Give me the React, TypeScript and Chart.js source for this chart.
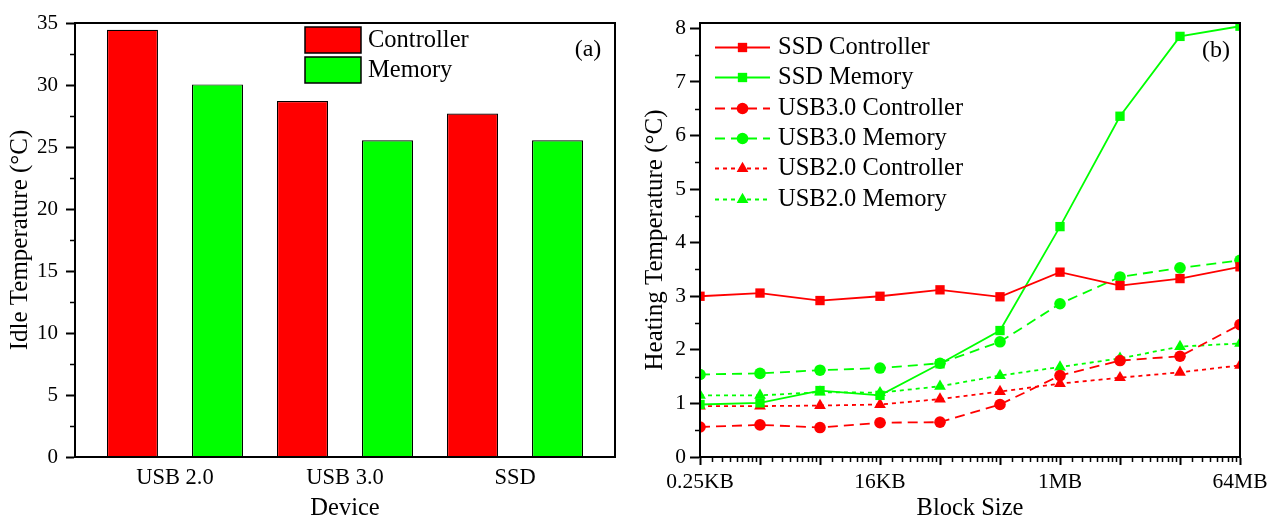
import React, { useEffect, useRef } from "react";
import { Chart, registerables } from "chart.js";

Chart.register(...registerables);

const FONT = "'Liberation Serif', 'Times New Roman', Times, serif";
const RED = "#ff0000";
const GREEN = "#00ff00";

// ---------- Panel (a): idle temperature ----------
const devices = ["USB 2.0", "USB 3.0", "SSD"];
const idleController = [34.45, 28.7, 27.7];
const idleMemory = [30.05, 25.55, 25.55];
const idleTicks = [0, 5, 10, 15, 20, 25, 30, 35];
const idleMinorTicks = [2.5, 7.5, 12.5, 17.5, 22.5, 27.5, 32.5];

// ---------- Panel (b): heating temperature vs block size ----------
const blockSizesKB = [0.25, 1, 4, 16, 64, 256, 1024, 4096, 16384, 65536];
const blockTickLabels = ["0.25KB", "", "", "16KB", "", "", "1MB", "", "", "64MB"];
const heatTicks = [0, 1, 2, 3, 4, 5, 6, 7, 8];
const heatMinorTicks = [0.5, 1.5, 2.5, 3.5, 4.5, 5.5, 6.5, 7.5];

const ssdController = [3.0, 3.06, 2.92, 3.0, 3.12, 2.99, 3.45, 3.2, 3.33, 3.55];
const ssdMemory = [0.98, 1.01, 1.24, 1.15, 1.74, 2.36, 4.3, 6.36, 7.85, 8.04];
const usb3Controller = [0.56, 0.6, 0.55, 0.64, 0.65, 0.98, 1.52, 1.8, 1.88, 2.47];
const usb3Memory = [1.54, 1.56, 1.62, 1.66, 1.75, 2.15, 2.86, 3.36, 3.53, 3.67];
const usb2Controller = [0.95, 0.95, 0.96, 0.98, 1.08, 1.22, 1.37, 1.48, 1.58, 1.71];
const usb2Memory = [1.15, 1.15, 1.21, 1.2, 1.32, 1.52, 1.68, 1.84, 2.06, 2.12];

// minor tick positions on the log axis (between each 4x step)
const blockMinorTicks: number[] = [];
for (let i = 0; i < blockSizesKB.length - 1; i++) {
  for (let k = 1; k <= 8; k++) blockMinorTicks.push(blockSizesKB[i] * (1 + k / 3));
}

// ---------- plugins ----------
const framePlugin = {
  id: "frame",
  afterDraw(chart: any) {
    const { ctx, chartArea } = chart;
    ctx.save();
    ctx.strokeStyle = "#000";
    ctx.lineWidth = 2;
    ctx.strokeRect(chartArea.left, chartArea.top, chartArea.right - chartArea.left, chartArea.bottom - chartArea.top);
    ctx.restore();
  },
};

function minorTicksPlugin(xVals: number[], yVals: number[], len: number) {
  return {
    id: "minorTicks",
    afterDraw(chart: any) {
      const { ctx, chartArea, scales } = chart;
      ctx.save();
      ctx.strokeStyle = "#000";
      ctx.lineWidth = 1.5;
      ctx.beginPath();
      xVals.forEach((v) => {
        const px = Math.round(scales.x.getPixelForValue(v)) + 0.5;
        ctx.moveTo(px, chartArea.bottom);
        ctx.lineTo(px, chartArea.bottom + len);
      });
      yVals.forEach((v) => {
        const py = Math.round(scales.y.getPixelForValue(v)) + 0.5;
        ctx.moveTo(chartArea.left - len, py);
        ctx.lineTo(chartArea.left, py);
      });
      ctx.stroke();
      ctx.restore();
    },
  };
}

function panelLabelPlugin(text: string, dxFromRight: number, dyFromTop: number) {
  return {
    id: "panelLabel",
    afterDraw(chart: any) {
      const { ctx, chartArea } = chart;
      ctx.save();
      ctx.fillStyle = "#000";
      ctx.font = `24px ${FONT}`;
      ctx.textAlign = "center";
      ctx.textBaseline = "middle";
      ctx.fillText(text, chartArea.right - dxFromRight, chartArea.top + dyFromTop);
      ctx.restore();
    },
  };
}

const legendBarsPlugin = {
  id: "legendBars",
  afterDraw(chart: any) {
    const { ctx, chartArea } = chart;
    const x0 = chartArea.left + 230;
    const y0 = chartArea.top + 4;
    ctx.save();
    chart.data.datasets.forEach((ds: any, i: number) => {
      const y = y0 + i * 30;
      ctx.fillStyle = ds.backgroundColor;
      ctx.fillRect(x0, y, 56, 26);
      ctx.strokeStyle = "#000";
      ctx.lineWidth = 1.5;
      ctx.strokeRect(x0, y, 56, 26);
      ctx.fillStyle = "#000";
      ctx.font = `24.5px ${FONT}`;
      ctx.textAlign = "left";
      ctx.textBaseline = "middle";
      ctx.fillText(ds.label, x0 + 63, y + 14);
    });
    ctx.restore();
  },
};

function drawMarker(ctx: CanvasRenderingContext2D, style: string, x: number, y: number, r: number, color: string) {
  ctx.beginPath();
  if (style === "rect") {
    const s = r * Math.SQRT1_2;
    ctx.rect(x - s, y - s, 2 * s, 2 * s);
  } else if (style === "triangle") {
    let rad = 0;
    ctx.moveTo(x + Math.sin(rad) * r, y - Math.cos(rad) * r);
    rad += (2 * Math.PI) / 3;
    ctx.lineTo(x + Math.sin(rad) * r, y - Math.cos(rad) * r);
    rad += (2 * Math.PI) / 3;
    ctx.lineTo(x + Math.sin(rad) * r, y - Math.cos(rad) * r);
    ctx.closePath();
  } else {
    ctx.arc(x, y, r, 0, Math.PI * 2);
  }
  ctx.fillStyle = color;
  ctx.fill();
}

const legendLinesPlugin = {
  id: "legendLines",
  afterDraw(chart: any) {
    const { ctx, chartArea } = chart;
    const xs = chartArea.left + 15;
    const xe = chartArea.left + 70;
    const xm = (xs + xe) / 2;
    const y0 = chartArea.top + 24;
    ctx.save();
    chart.data.datasets.forEach((ds: any, i: number) => {
      const y = Math.round(y0 + i * 30.3) + 0.5;
      ctx.strokeStyle = ds.borderColor;
      ctx.lineWidth = ds.borderWidth;
      ctx.setLineDash(ds.borderDash || []);
      ctx.beginPath();
      ctx.moveTo(xs, y);
      ctx.lineTo(xe, y);
      ctx.stroke();
      ctx.setLineDash([]);
      drawMarker(ctx, ds.pointStyle, xm, y, ds.pointRadius, ds.borderColor);
      ctx.fillStyle = "#000";
      ctx.font = `24.5px ${FONT}`;
      ctx.textAlign = "left";
      ctx.textBaseline = "middle";
      ctx.fillText(ds.label, chartArea.left + 78, y);
    });
    ctx.restore();
  },
};

// ---------- configs ----------
function makeConfigA(): any {
  return {
    type: "bar",
    data: {
      datasets: [
        {
          label: "Controller",
          data: devices.map((_, i) => ({ x: i, y: idleController[i] })),
          backgroundColor: RED,
          borderColor: "#000",
          borderWidth: 1.2,
        },
        {
          label: "Memory",
          data: devices.map((_, i) => ({ x: i, y: idleMemory[i] })),
          backgroundColor: GREEN,
          borderColor: "#000",
          borderWidth: 1.2,
        },
      ],
    },
    options: {
      responsive: false,
      animation: false,
      devicePixelRatio: 1,
      events: [],
      categoryPercentage: 1,
      barPercentage: 0.6,
      layout: { padding: { left: 0, top: 23, right: 25, bottom: 0 } },
      plugins: { legend: { display: false }, tooltip: { enabled: false } },
      scales: {
        x: {
          type: "linear",
          offset: false,
          min: -0.588,
          max: 2.588,
          afterBuildTicks: (s: any) => {
            s.ticks = devices.map((_, i) => ({ value: i }));
          },
          afterFit: (s: any) => {
            s.height = 65;
            s.paddingLeft = 0;
            s.paddingRight = 0;
          },
          grid: { display: true, offset: false, drawOnChartArea: false, drawTicks: false },
          border: { display: true, color: "#000", width: 2 },
          ticks: {
            color: "#000",
            font: { family: FONT, size: 22.5 },
            padding: 8,
            autoSkip: false,
            maxRotation: 0,
            callback: (v: any) => devices[Math.round(v)] ?? "",
          },
          title: {
            display: true,
            text: "Device",
            color: "#000",
            font: { family: FONT, size: 24.5 },
            padding: { top: 0, bottom: -1 },
          },
        },
        y: {
          min: 0,
          max: 35,
          afterBuildTicks: (s: any) => {
            s.ticks = idleTicks.map((v) => ({ value: v }));
          },
          afterFit: (s: any) => {
            s.width = 75;
            s.paddingTop = 0;
            s.paddingBottom = 0;
          },
          grid: { drawOnChartArea: false, drawTicks: true, tickLength: 9, tickWidth: 2, tickColor: "#000" },
          border: { display: true, color: "#000", width: 2 },
          ticks: { color: "#000", font: { family: FONT, size: 21 }, padding: 8 },
          title: {
            display: true,
            text: "Idle Temperature (°C)",
            color: "#000",
            font: { family: FONT, size: 25 },
            padding: { top: 5, bottom: 0 },
          },
        },
      },
    },
    plugins: [
      minorTicksPlugin([], idleMinorTicks, 5),
      framePlugin,
      legendBarsPlugin,
      panelLabelPlugin("(a)", 27, 27),
    ],
  };
}

function lineDs(label: string, values: number[], color: string, dash: number[], style: string, r: number) {
  return {
    label,
    data: blockSizesKB.map((x, i) => ({ x, y: values[i] })),
    borderColor: color,
    backgroundColor: color,
    borderWidth: 1.8,
    borderDash: dash,
    pointStyle: style,
    pointRadius: r,
    pointBorderWidth: 0,
    pointBackgroundColor: color,
    pointBorderColor: color,
    tension: 0,
    fill: false,
  };
}

function makeConfigB(): any {
  return {
    type: "line",
    data: {
      datasets: [
        lineDs("SSD Controller", ssdController, RED, [], "rect", 6.6),
        lineDs("SSD Memory", ssdMemory, GREEN, [], "rect", 6.6),
        lineDs("USB3.0 Controller", usb3Controller, RED, [10, 6], "circle", 5.8),
        lineDs("USB3.0 Memory", usb3Memory, GREEN, [10, 6], "circle", 5.8),
        lineDs("USB2.0 Controller", usb2Controller, RED, [4, 4], "triangle", 6.8),
        lineDs("USB2.0 Memory", usb2Memory, GREEN, [4, 4], "triangle", 6.8),
      ],
    },
    options: {
      responsive: false,
      animation: false,
      devicePixelRatio: 1,
      events: [],
      layout: { padding: { left: 0, top: 23, right: 27, bottom: 0 } },
      plugins: { legend: { display: false }, tooltip: { enabled: false } },
      scales: {
        x: {
          type: "logarithmic",
          min: blockSizesKB[0],
          max: blockSizesKB[blockSizesKB.length - 1],
          afterBuildTicks: (s: any) => {
            s.ticks = blockSizesKB.map((v) => ({ value: v }));
          },
          afterFit: (s: any) => {
            s.height = 65;
            s.paddingLeft = 0;
            s.paddingRight = 0;
          },
          grid: { drawOnChartArea: false, drawTicks: true, tickLength: 8, tickWidth: 2, tickColor: "#000" },
          border: { display: true, color: "#000", width: 2 },
          ticks: {
            color: "#000",
            font: { family: FONT, size: 21.5 },
            padding: 4,
            autoSkip: false,
            maxRotation: 0,
            callback: (_v: any, i: number) => blockTickLabels[i] ?? "",
          },
          title: {
            display: true,
            text: "Block Size",
            color: "#000",
            font: { family: FONT, size: 24.5 },
            padding: { top: 0, bottom: -1 },
          },
        },
        y: {
          min: 0,
          max: 8.1,
          afterBuildTicks: (s: any) => {
            s.ticks = heatTicks.map((v) => ({ value: v }));
          },
          afterFit: (s: any) => {
            s.width = 70;
            s.paddingTop = 0;
            s.paddingBottom = 0;
          },
          grid: { drawOnChartArea: false, drawTicks: true, tickLength: 10, tickWidth: 2, tickColor: "#000" },
          border: { display: true, color: "#000", width: 2 },
          ticks: { color: "#000", font: { family: FONT, size: 21.5 }, padding: 4 },
          title: {
            display: true,
            text: "Heating Temperature (°C)",
            color: "#000",
            font: { family: FONT, size: 25 },
            padding: { top: 10, bottom: 0 },
          },
        },
      },
    },
    plugins: [
      minorTicksPlugin(blockMinorTicks, heatMinorTicks, 5),
      framePlugin,
      legendLinesPlugin,
      panelLabelPlugin("(b)", 24, 28),
    ],
  };
}

export default function App() {
  const refA = useRef<HTMLCanvasElement>(null);
  const refB = useRef<HTMLCanvasElement>(null);

  useEffect(() => {
    Chart.defaults.color = "#000";
    Chart.defaults.font.family = FONT;
    const a = new Chart(refA.current as HTMLCanvasElement, makeConfigA());
    const b = new Chart(refB.current as HTMLCanvasElement, makeConfigB());
    return () => {
      a.destroy();
      b.destroy();
    };
  }, []);

  return (
    <div
      style={{
        position: "fixed",
        left: 0,
        top: 0,
        width: 1267,
        height: 522,
        overflow: "hidden",
        background: "#fff",
      }}
    >
      <canvas
        ref={refA}
        width={640}
        height={522}
        style={{ position: "absolute", left: 0, top: 0, width: 640, height: 522 }}
      />
      <canvas
        ref={refB}
        width={637}
        height={522}
        style={{ position: "absolute", left: 630, top: 0, width: 637, height: 522 }}
      />
    </div>
  );
}
